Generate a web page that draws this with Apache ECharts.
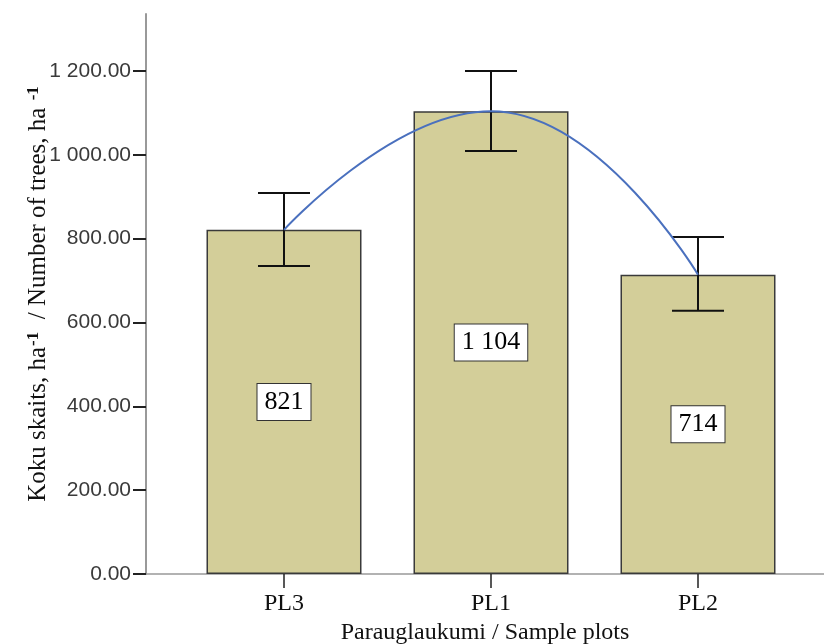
<!DOCTYPE html>
<html>
<head>
<meta charset="utf-8">
<script src="https://cdn.jsdelivr.net/npm/echarts@6/dist/echarts.min.js"></script>
<style>
html,body{margin:0;padding:0;background:#fff;}
#chart{width:824px;height:644px;}
</style>
</head>
<body>
<div id="chart"></div>
<script>
var categories = ['PL3', 'PL1', 'PL2'];
var means = [821, 1104, 714];
var upper = [909, 1200, 804];
var lower = [735, 1009, 628];
var yTicks = [0, 200, 400, 600, 800, 1000, 1200];

function fmtThousands(n, dec) {
  var s = dec != null ? Number(n).toFixed(dec) : String(n);
  var parts = s.split('.');
  parts[0] = parts[0].replace(/\B(?=(\d{3})+(?!\d))/g, ' ');
  return parts.join('.');
}

var barData = means.map(function (v, i) { return [i, v]; });
var errData = means.map(function (v, i) { return [i, lower[i], upper[i]]; });

var chart = echarts.init(document.getElementById('chart'));
chart.setOption({
  animation: false,
  backgroundColor: '#fff',
  grid: { left: 146, right: 0, top: 14, bottom: 70, containLabel: false, outerBoundsMode: 'none' },
  xAxis: {
    type: 'value',
    min: -2 / 3,
    max: 2.6087,
    name: 'Parauglaukumi / Sample plots',
    nameLocation: 'middle',
    nameGap: 47,
    nameMoveOverlap: false,
    nameTextStyle: { fontFamily: 'Liberation Serif', fontSize: 24, color: '#111' },
    splitLine: { show: false },
    axisLine: { show: true, onZero: false, lineStyle: { color: '#999', width: 1.5 } },
    axisTick: { show: true, length: 14, customValues: [0, 1, 2], lineStyle: { color: '#222', width: 1.5 } },
    axisLabel: {
      customValues: [0, 1, 2],
      margin: 18,
      fontFamily: 'Liberation Serif', fontSize: 24, color: '#111',
      formatter: function (v) { return categories[Math.round(v)]; }
    }
  },
  yAxis: {
    type: 'value',
    min: 0,
    max: 1336,
    interval: 200,
    name: '{a|Koku skaits, ha}{s|-1}{a|  / Number of trees, ha }{s|-1}',
    nameLocation: 'middle',
    nameGap: 94,
    nameRotate: 90,
    nameMoveOverlap: false,
    nameTextStyle: {
      rich: {
        a: { fontFamily: 'Liberation Serif', fontSize: 25, color: '#111' },
        s: { fontFamily: 'Liberation Serif', fontSize: 17, fontWeight: 'bold', color: '#111', verticalAlign: 'top', padding: [0, 0, 10, 1] }
      }
    },
    splitLine: { show: false },
    axisLine: { show: true, onZero: false, lineStyle: { color: '#999', width: 2 } },
    axisTick: { show: true, length: 13, customValues: yTicks, lineStyle: { color: '#222', width: 2 } },
    axisLabel: {
      customValues: yTicks,
      margin: 15,
      fontFamily: 'Liberation Sans', fontSize: 21, color: '#3a3a3a',
      formatter: function (v) { return fmtThousands(v, 2); }
    }
  },
  series: [
    {
      type: 'bar',
      data: barData,
      barWidth: 155,
      itemStyle: { color: '#D3CE99', borderColor: '#3a3a3a', borderWidth: 1.5 },
      label: {
        show: true,
        position: 'inside',
        fontFamily: 'Liberation Serif',
        fontSize: 26,
        color: '#000',
        backgroundColor: '#fff',
        borderColor: '#333',
        borderWidth: 1,
        padding: [4, 7, 3, 7],
        lineHeight: 29,
        formatter: function (p) { return fmtThousands(p.value[1]); }
      },
      z: 2
    },
    {
      type: 'custom',
      data: errData,
      z: 3,
      renderItem: function (params, api) {
        var x = api.value(0);
        var lo = api.coord([x, api.value(1)]);
        var hi = api.coord([x, api.value(2)]);
        var hw = 26;
        var st = { stroke: '#111', lineWidth: 2 };
        return {
          type: 'group',
          children: [
            { type: 'line', shape: { x1: lo[0], y1: lo[1], x2: hi[0], y2: hi[1] }, style: st },
            { type: 'line', shape: { x1: hi[0] - hw, y1: hi[1], x2: hi[0] + hw, y2: hi[1] }, style: st },
            { type: 'line', shape: { x1: lo[0] - hw, y1: lo[1], x2: lo[0] + hw, y2: lo[1] }, style: st }
          ]
        };
      }
    },
    {
      type: 'line',
      data: barData,
      smooth: true,
      symbol: 'none',
      lineStyle: { color: '#4A70BE', width: 2 },
      z: 4
    }
  ]
});
</script>
</body>
</html>
